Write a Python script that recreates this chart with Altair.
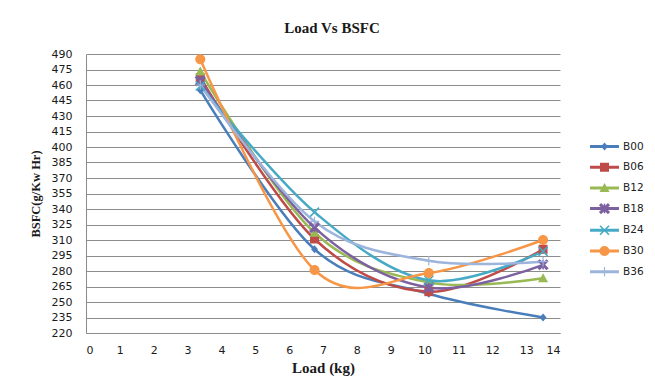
import math
import altair as alt
import pandas as pd

# ---- data ----
loads = [3.375, 6.75, 10.125, 13.5]
series = ["B00", "B06", "B12", "B18", "B24", "B30", "B36"]
b00 = [455, 301, 258, 235]
b06 = [467, 311, 260, 301]
b12 = [473, 317, 269, 273]
b18 = [464, 322, 264, 286]
b24 = [459, 337, 271, 299]
b30 = [485, 281, 278, 310]
b36 = [460, 328, 290, 289]
y_ticks = list(range(220, 491, 15))
x_ticks = list(range(0, 15))

colors = ["#4A7EBB", "#BE4B48", "#98B954", "#7D60A0", "#46AAC5", "#F79646", "#9DB5DC"]

rows = []
for s, vals in zip(series, [b00, b06, b12, b18, b24, b30, b36]):
    for x, v in zip(loads, vals):
        rows.append({"series": s, "load": x, "bsfc": v})
df = pd.DataFrame(rows)

# ---- marker shapes (custom SVG paths, unit box) ----
def rect(x0, y0, x1, y1):
    return [(x0, y0), (x1, y0), (x1, y1), (x0, y1)]

def diag(p1, p2, t):
    dx, dy = p2[0] - p1[0], p2[1] - p1[1]
    L = math.hypot(dx, dy)
    n = (-dy / L, dx / L)
    return [(p1[0] - t * n[0], p1[1] - t * n[1]), (p2[0] - t * n[0], p2[1] - t * n[1]),
            (p2[0] + t * n[0], p2[1] + t * n[1]), (p1[0] + t * n[0], p1[1] + t * n[1])]

def poly_path(pts, k):
    return "M" + " L".join(f"{x * k:.3f},{y * k:.3f}" for x, y in pts) + " Z"

def circle_path(r, k):
    rr = r * k
    return f"M{-rr:.3f},0 A{rr:.3f},{rr:.3f} 0 1,1 {rr:.3f},0 A{rr:.3f},{rr:.3f} 0 1,1 {-rr:.3f},0 Z"

markers = [
    [("poly", [(0, -0.8), (0.7, 0), (0, 0.8), (-0.7, 0)])],
    [("poly", rect(-0.9, -0.9, 0.9, 0.9))],
    [("poly", [(0, -1.0), (1.0, 0.8), (-1.0, 0.8)])],
    [("poly", diag((-0.9, -0.9), (0.9, 0.9), 0.3)), ("poly", diag((0.9, -0.9), (-0.9, 0.9), 0.3)),
     ("poly", rect(-0.15, -0.95, 0.15, 0.95))],
    [("poly", diag((-0.9, -0.9), (0.9, 0.9), 0.16)), ("poly", diag((0.9, -0.9), (-0.9, 0.9), 0.16))],
    [("circle", 1.0)],
    [("poly", rect(-0.12, -0.95, 0.12, 0.95)), ("poly", rect(-0.95, -0.12, 0.95, 0.12))],
]

def build(parts, k, bar=False):
    out = []
    if bar:
        out.append(poly_path(rect(-1.93, -0.2, 1.93, 0.2), 1))
    for kind, p in parts:
        out.append(circle_path(p, k) if kind == "circle" else poly_path(p, k))
    return " ".join(out)

chart_shapes = [build(m, 1.0) for m in markers]
legend_shapes = [build(m, 5 / 7.5, bar=True) for m in markers]

# ---- encodings ----
x_enc = alt.X("load:Q", scale=alt.Scale(domain=[0, 14], nice=False, zero=False),
              axis=alt.Axis(values=x_ticks, title="Load (kg)", grid=False, ticks=False,
                            labelPadding=11, titlePadding=5, format="d"))
y_enc = alt.Y("bsfc:Q", scale=alt.Scale(domain=[220, 490], nice=False, zero=False),
              axis=alt.Axis(values=y_ticks, title="BSFC(g/Kw Hr)", grid=True, ticks=False,
                            labelPadding=14, titlePadding=9, format="d"))

legend = alt.Legend(title=None, orient="none", legendX=511, legendY=85, symbolSize=225,
                    symbolStrokeWidth=0, labelOffset=11, rowPadding=7.7, padding=0,
                    labelFont="DejaVu Sans", labelFontSize=10.5, labelColor="#222222")

lines = alt.Chart(df).mark_line(interpolate="cardinal", strokeWidth=2.5).encode(
    x=x_enc, y=y_enc,
    color=alt.Color("series:N", scale=alt.Scale(domain=series, range=colors), legend=None),
)

points = alt.Chart(df).mark_point(filled=True, opacity=1, size=100).encode(
    x=x_enc, y=y_enc,
    color=alt.Color("series:N", scale=alt.Scale(domain=series, range=colors), legend=None),
    shape=alt.Shape("series:N", scale=alt.Scale(domain=series, range=chart_shapes), legend=None),
)

leg = alt.Chart(df).transform_filter("datum.load < 0").mark_point(filled=True, opacity=1).encode(
    x=x_enc, y=y_enc,
    color=alt.Color("series:N", scale=alt.Scale(domain=series, range=colors), legend=legend),
    shape=alt.Shape("series:N", scale=alt.Scale(domain=series, range=legend_shapes), legend=legend),
)

chart = alt.layer(lines, points, leg).resolve_scale(
    color="independent", shape="independent"
).properties(
    width=474, height=279,
    padding={"left": 86, "top": 54, "right": 95, "bottom": 50},
    autosize=alt.AutoSizeParams(type="none"),
    title=alt.Title("Load Vs BSFC", font="Liberation Serif", fontSize=15, fontWeight="bold",
                    color="#1a1a1a", anchor="middle", frame="group", offset=0, dx=9,
                    baseline="alphabetic"),
).configure_view(strokeOpacity=0).configure_axis(
    domainColor="#8c8c8c", gridColor="#8c8c8c", gridOpacity=1, domainWidth=1, gridWidth=1,
    labelFont="DejaVu Sans", labelFontSize=11, labelColor="#1a1a1a",
    titleFont="Liberation Serif", titleFontWeight="bold", titleColor="#1a1a1a",
).configure_axisX(titleFontSize=15).configure_axisY(titleFontSize=12.5)

chart.save("out.html", embed_options={"renderer": "svg", "actions": False})
